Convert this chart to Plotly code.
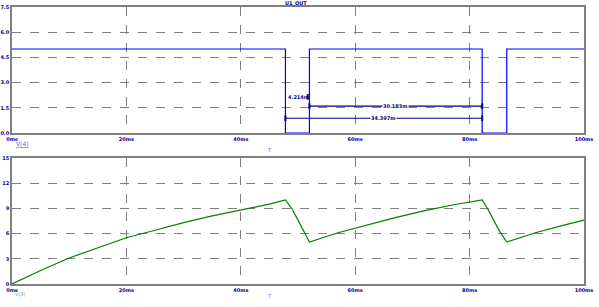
import plotly.graph_objects as go

# ---- data ----
t_out = [0, 47.8, 47.8, 52.0, 52.0, 82.2, 82.2, 86.5, 86.5, 100]
v_out = [5, 5, 0, 0, 5, 5, 0, 0, 5, 5]

t_cap = [0, 5, 10, 15, 20, 25, 30, 35, 40, 45, 47.8,
         49, 50, 51, 52.0,
         57, 62, 67, 72, 77, 82.2,
         83.2, 84.2, 85.3, 86.5,
         91.5, 96.5, 100]
v_cap = [0.0, 1.6, 3.1, 4.3, 5.5, 6.4, 7.3, 8.1, 8.8, 9.5, 10.0,
         8.9, 7.6, 6.2, 5.0,
         6.1, 7.0, 7.9, 8.7, 9.4, 10.0,
         8.9, 7.6, 6.2, 5.0,
         6.1, 7.0, 7.6]

x_ticks = [0, 20, 40, 60, 80, 100]
x_labels = ["0ms", "20ms", "40ms", "60ms", "80ms", "100ms"]
y1_ticks = [0, 1.5, 3.0, 4.5, 6.0, 7.5]
y1_labels = ["0.0", "1.5", "3.0", "4.5", "6.0", "7.5"]
y2_ticks = [0, 3, 6, 9, 12, 15]
y2_labels = ["0", "3", "6", "9", "12", "15"]

meas_low = "4.214m"
meas_high = "30.183m"
meas_period = "34.397m"

NAVY = "#000080"
TICKC = "#0000a0"
GRID = "#808080"

fig = go.Figure()
fig.add_trace(go.Scatter(x=t_out, y=v_out, mode="lines", line=dict(color="#0000ff", width=1.2),
                         xaxis="x", yaxis="y", showlegend=False))
fig.add_trace(go.Scatter(x=t_cap, y=v_cap, mode="lines", line=dict(color="#008000", width=1.2),
                         xaxis="x2", yaxis="y2", showlegend=False))

# measurement cursors
t_fall1, t_rise1, t_fall2 = t_out[1], t_out[3], t_out[5]
fig.add_trace(go.Scatter(x=[t_rise1, t_fall2], y=[1.6, 1.6], mode="lines+markers",
                         line=dict(color=NAVY, width=1.2),
                         marker=dict(symbol="line-ns", size=4, line=dict(color=NAVY, width=2)),
                         xaxis="x", yaxis="y", showlegend=False))
fig.add_trace(go.Scatter(x=[t_fall1, t_fall2], y=[0.88, 0.88], mode="lines+markers",
                         line=dict(color=NAVY, width=1.2),
                         marker=dict(symbol="line-ns", size=4, line=dict(color=NAVY, width=2)),
                         xaxis="x", yaxis="y", showlegend=False))
fig.add_trace(go.Scatter(x=[t_rise1 - 0.3], y=[2.15], mode="markers",
                         marker=dict(symbol="line-ns", size=4, line=dict(color=NAVY, width=2)),
                         xaxis="x", yaxis="y", showlegend=False))

lab_font = dict(family="DejaVu Sans", size=5, color=NAVY, weight="bold")
fig.add_annotation(x=(t_rise1 + t_fall2) / 2, y=1.6, xref="x", yref="y", text=meas_high,
                   showarrow=False, bgcolor="white", font=lab_font, borderpad=0)
fig.add_annotation(x=(t_fall1 + t_fall2) / 2, y=0.88, xref="x", yref="y", text=meas_period,
                   showarrow=False, bgcolor="white", font=lab_font, borderpad=0)
fig.add_annotation(x=t_fall1 + 0.3, y=2.15, xref="x", yref="y", text=meas_low,
                   showarrow=False, xanchor="left", font=lab_font, borderpad=0)

tick_font = dict(family="DejaVu Sans", size=5, color=TICKC, weight="bold")
ax_common = dict(showline=True, linecolor=GRID, linewidth=1.5, mirror=True,
                 showgrid=True, gridcolor=GRID, griddash="dash", gridwidth=1,
                 zeroline=False, ticks="", tickfont=tick_font, ticklen=0,
                 automargin=False)

fig.update_layout(
    width=599, height=307,
    margin=dict(l=12, r=15, t=7, b=23),
    paper_bgcolor="white", plot_bgcolor="white",
    xaxis=dict(domain=[0, 1], range=[0, 100], tickvals=x_ticks, ticktext=x_labels,
               anchor="y", **ax_common),
    yaxis=dict(domain=[0.545, 1], range=[0, 7.5], tickvals=y1_ticks, ticktext=y1_labels,
               anchor="x", **ax_common),
    xaxis2=dict(domain=[0, 1], range=[0, 100], tickvals=x_ticks, ticktext=x_labels,
                anchor="y2", **ax_common),
    yaxis2=dict(domain=[0, 0.455], range=[0, 15], tickvals=y2_ticks, ticktext=y2_labels,
                anchor="x2", **ax_common),
)

# titles / trace names
fig.add_annotation(x=0.497, y=1.0125, xref="paper", yref="paper", yanchor="middle", text="U1_OUT",
                   showarrow=False, borderpad=0,
                   font=dict(family="DejaVu Sans", size=5, color=NAVY, weight="bold"))
fig.add_annotation(x=0.003, y=0.507, xref="paper", yref="paper", xanchor="left", text="<u>V(4)</u>",
                   showarrow=False, font=dict(family="DejaVu Sans", size=6, color="#6060ff"))
fig.add_annotation(x=0.003, y=-0.05, xref="paper", yref="paper", xanchor="left", text="V(3)",
                   showarrow=False, borderpad=0,
                   font=dict(family="DejaVu Sans", size=5, color="#80a080"))
fig.add_annotation(x=0.451, y=0.482, xref="paper", yref="paper", text="T",
                   showarrow=False, font=dict(family="DejaVu Sans", size=5, color="#6060ff"))
fig.add_annotation(x=0.451, y=-0.062, xref="paper", yref="paper", text="T",
                   showarrow=False, font=dict(family="DejaVu Sans", size=5, color="#6060ff"))

fig.write_html("out.html")
